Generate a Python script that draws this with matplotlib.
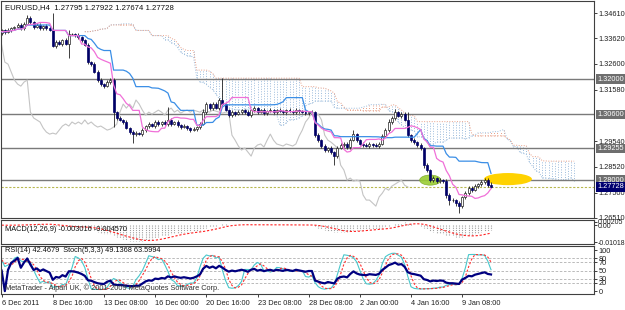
import numpy as np
import pandas as pd
import matplotlib
matplotlib.use('Agg')
import matplotlib.pyplot as plt
from matplotlib.patches import Ellipse
from matplotlib.transforms import blended_transform_factory

plt.rcParams['font.family'] = ['Liberation Sans', 'DejaVu Sans']

# EURUSD H4 bars, 6 Dec 2011 -> 10 Jan 2012 (open = previous close)
first_open = 1.3382
closes = [
    1.3394, 1.3386, 1.3394, 1.3402, 1.3406, 1.3414, 1.3402, 1.3418, 1.3442, 1.3426,
    1.3406, 1.3414, 1.3402, 1.3410, 1.3402, 1.3394, 1.3331, 1.3347, 1.3339, 1.3354,
    1.3339, 1.3378, 1.3378, 1.3374, 1.3366, 1.3354, 1.3335, 1.3267, 1.3259, 1.3228,
    1.3196, 1.3180, 1.3172, 1.3188, 1.3196, 1.3069, 1.3046, 1.3038, 1.3030, 1.3006,
    1.2990, 1.2982, 1.2986, 1.2982, 1.2998, 1.3014, 1.3022, 1.3014, 1.3030, 1.3022,
    1.3030, 1.3022, 1.3038, 1.3022, 1.3030, 1.3018, 1.3010, 1.3014, 1.3006, 1.2998,
    1.3002, 1.3010, 1.3022, 1.3069, 1.3101, 1.3085, 1.3101, 1.3085, 1.3117, 1.3101,
    1.3077, 1.3057, 1.3069, 1.3061, 1.3069, 1.3077, 1.3069, 1.3057, 1.3077, 1.3085,
    1.3069, 1.3077, 1.3065, 1.3073, 1.3077, 1.3069, 1.3077, 1.3073, 1.3069, 1.3077,
    1.3073, 1.3069, 1.3077, 1.3073, 1.3069, 1.3065, 1.3069, 1.3069, 1.2978, 1.2958,
    1.2935, 1.2919, 1.2927, 1.2911, 1.2895, 1.2927, 1.2939, 1.2943, 1.2931, 1.2958,
    1.2982, 1.2958, 1.2943, 1.2939, 1.2935, 1.2943, 1.2939, 1.2935, 1.2943, 1.2974,
    1.2998, 1.3030, 1.3046, 1.3069, 1.3053, 1.3061, 1.3038, 1.2978, 1.2958, 1.2950,
    1.2939, 1.2927, 1.2859, 1.2840, 1.2800, 1.2808, 1.2796, 1.2800, 1.2796, 1.2741,
    1.2721, 1.2721, 1.2709, 1.2697, 1.2733, 1.2748, 1.2768, 1.2760, 1.2776, 1.2784,
    1.2792, 1.2800, 1.27795, 1.27728,
]
# wick lengths in pips above / below the body
upper_wick = [
    6, 5, 8, 6, 5, 7, 6, 9, 11, 6,
    5, 7, 6, 5, 6, 8, 67, 6, 8, 5,
    7, 16, 6, 5, 7, 5, 6, 8, 6, 7,
    6, 8, 5, 9, 7, 10, 6, 8, 5, 9,
    6, 7, 8, 6, 7, 5, 8, 6, 7, 6,
    5, 7, 51, 6, 5, 8, 6, 7, 5, 6,
    7, 5, 8, 12, 9, 6, 10, 7, 8, 87,
    6, 5, 8, 6, 7, 5, 6, 8, 5, 7,
    6, 5, 7, 6, 8, 5, 6, 7, 5, 6,
    8, 5, 7, 6, 5, 7, 6, 8, 6, 7,
    5, 8, 6, 7, 5, 9, 6, 8, 7, 10,
    16, 6, 5, 7, 6, 8, 5, 6, 7, 9,
    8, 10, 7, 12, 6, 9, 8, 31, 6, 7,
    5, 8, 6, 7, 5, 9, 6, 8, 5, 7,
    6, 8, 5, 7, 6, 9, 7, 8, 10, 6,
    9, 8, 7, 12,
]
lower_wick = [
    7, 6, 5, 8, 6, 5, 7, 6, 5, 8,
    6, 5, 7, 6, 8, 5, 6, 7, 5, 8,
    6, 56, 5, 7, 6, 8, 5, 7, 6, 5,
    8, 6, 7, 5, 6, 59, 7, 6, 8, 5,
    7, 36, 6, 5, 8, 6, 7, 5, 6, 7,
    8, 5, 6, 7, 5, 6, 8, 5, 7, 6,
    5, 7, 6, 5, 8, 6, 7, 5, 6, 8,
    5, 7, 6, 8, 5, 6, 7, 5, 8, 6,
    7, 5, 6, 8, 5, 7, 6, 5, 7, 6,
    5, 8, 6, 7, 5, 6, 8, 5, 9, 7,
    8, 6, 9, 7, 36, 6, 5, 8, 6, 7,
    5, 8, 6, 7, 5, 6, 8, 5, 7, 6,
    5, 7, 6, 8, 5, 7, 6, 8, 9, 7,
    6, 8, 10, 7, 9, 6, 8, 7, 6, 12,
    20, 9, 10, 28, 7, 8, 6, 9, 5, 7,
    6, 8, 7, 5,
]

date_bars = [0, 16, 32, 48, 64, 80, 96, 112, 128, 144]
date_labels = ['6 Dec 2011', '8 Dec 16:00', '13 Dec 08:00', '16 Dec 00:00',
               '20 Dec 16:00', '23 Dec 08:00', '28 Dec 08:00', '2 Jan 00:00',
               '4 Jan 16:00', '9 Jan 08:00']

price_ticks = [1.34610, 1.33620, 1.32600, 1.31580, 1.29540, 1.28520, 1.27500, 1.26510]
level_lines = [1.32000, 1.30600, 1.29255, 1.28000]
last_price = 1.27728
header = 'EURUSD,H4  1.27795 1.27922 1.27674 1.27728'

macd_ticks = [0.00205, 0.0, -0.01018]
macd_tick_labels = ['0.00205', '0.00', '-0.01018']
rsi_ticks = [100, 80, 70, 50, 30, 20, 0]
rsi_levels = [80, 70, 50, 30, 20]

# marked zones (bar index, price, width in bars, height in price)
green_zone = (134, 1.2800, 6.6, 0.0040)
yellow_zone = (158.3, 1.2804, 15.0, 0.0048)

# ---- derived series ----
close = pd.Series(closes)
opens = pd.Series(np.r_[first_open, close.values[:-1]])
high = np.maximum(opens, close) + pd.Series(upper_wick) * 1e-4
low = np.minimum(opens, close) - pd.Series(lower_wick) * 1e-4
n = len(close)
x = np.arange(n)

tenkan = (high.rolling(9, min_periods=1).max() + low.rolling(9, min_periods=1).min()) / 2
kijun = (high.rolling(26, min_periods=1).max() + low.rolling(26, min_periods=1).min()) / 2
span_a = ((tenkan + kijun) / 2).values
span_b = ((high.rolling(52, min_periods=1).max() + low.rolling(52, min_periods=1).min()) / 2).values
xs = x + 26

ema12 = close.ewm(span=12, adjust=False).mean()
ema26 = close.ewm(span=26, adjust=False).mean()
macd = ema12 - ema26
signal = macd.rolling(9, min_periods=1).mean()

delta = close.diff().fillna(0)
gain = delta.clip(lower=0).ewm(alpha=1 / 14, adjust=False).mean()
loss = (-delta.clip(upper=0)).ewm(alpha=1 / 14, adjust=False).mean()
rsi = 100 - 100 / (1 + gain / loss.replace(0, 1e-9))
rsi.iloc[0] = 50

ll = low.rolling(5, min_periods=1).min()
hh = high.rolling(5, min_periods=1).max()
stoch_k = (close - ll).rolling(3, min_periods=1).sum() / (hh - ll).rolling(3, min_periods=1).sum() * 100
stoch_d = stoch_k.rolling(3, min_periods=1).mean()

# ---- figure ----
fig = plt.figure(figsize=(6.25, 3.1), dpi=100)
W, H = 625, 310
def box(l, t, r, b):
    return [l / W, 1 - b / H, (r - l) / W, (b - t) / H]

ax = fig.add_axes(box(1, 1, 594, 218))
ax2 = fig.add_axes(box(1, 220, 594, 244), sharex=ax)
ax3 = fig.add_axes(box(1, 246, 594, 294), sharex=ax)

fs = 5.3
frame = '#404040'
for a in (ax, ax2, ax3):
    for s in a.spines.values():
        s.set_color(frame)
        s.set_linewidth(0.8)
    a.yaxis.tick_right()
    a.tick_params(axis='y', length=2, width=0.6, pad=1.5, labelsize=fs, colors='#202020')
    a.tick_params(axis='x', length=0)

ax.set_xlim(-0.2, 185.2)

# cloud
up = span_a > span_b
for cond, col in ((up, '#e8a088'), (~up, '#9cbcdc')):
    ax.vlines(xs[cond], np.minimum(span_a, span_b)[cond], np.maximum(span_a, span_b)[cond],
              colors=col, linestyles=(0, (1, 1.6)), lw=0.7, zorder=1)
ax.plot(xs, span_a, color='#9cbcdc', lw=0.7, ls=(0, (1, 1.6)), zorder=1)
ax.plot(xs, span_b, color='#e8a088', lw=0.7, ls=(0, (1, 1.6)), zorder=1)

# horizontal levels
for v in level_lines:
    ax.axhline(v, color='#7a7a7a', lw=1.0, zorder=2)
ax.axhline(last_price, color='#b8b850', lw=0.8, ls=(0, (2, 1.5)), zorder=2)

# chikou
ax.plot(x[:-26], close.values[26:], color='#c4c4c4', lw=0.8, zorder=2)

# marked zones
ax.add_patch(Ellipse(green_zone[:2], green_zone[2], green_zone[3],
                     fc='#9acd32', ec='#7aa828', lw=0.5, alpha=0.9, zorder=2.5))
ax.add_patch(Ellipse(yellow_zone[:2], yellow_zone[2], yellow_zone[3],
                     fc='#ffd200', ec='none', zorder=2.5))

# candles
bull = (close >= opens).values
ax.vlines(x, low, high, color='#202020', lw=0.6, zorder=3)
body = (close - opens).values
ax.bar(x[bull], body[bull], bottom=opens.values[bull], width=0.62,
       color='white', edgecolor='#202020', lw=0.5, zorder=3.5)
ax.bar(x[~bull], body[~bull], bottom=opens.values[~bull], width=0.62,
       color='#000066', edgecolor='#000066', lw=0.5, zorder=3.5)

# tenkan / kijun
ax.plot(x, kijun, color='#3a8ee6', lw=0.9, zorder=4)
ax.plot(x, tenkan, color='#f070d8', lw=0.9, zorder=4)

ax.set_ylim(1.2650, 1.3509)
ax.set_yticks(price_ticks)
ax.set_yticklabels([f'{v:.5f}' for v in price_ticks])
ax.text(0.006, 0.985, header, transform=ax.transAxes, fontsize=fs + 0.3,
        va='top', ha='left', color='#101010')

tr = blended_transform_factory(ax.transAxes, ax.transData)
for v in level_lines:
    ax.text(1.006, v, f'{v:.5f}', transform=tr, fontsize=fs, color='white',
            va='center', ha='left', zorder=6, clip_on=False,
            bbox=dict(boxstyle='square,pad=0.18', fc='#6e6e6e', ec='none'))
ax.text(1.006, last_price, f'{last_price:.5f}', transform=tr, fontsize=fs, color='white',
        va='center', ha='left', zorder=6, clip_on=False,
        bbox=dict(boxstyle='square,pad=0.18', fc='#000070', ec='none'))

# MACD panel
ax2.vlines(x, 0, macd, colors='#a0a0a0', linestyles=(0, (1, 1)), lw=0.8)
ax2.plot(x, signal, color='#ff2020', lw=0.8, ls=(0, (2, 1.6)))
ax2.set_ylim(-0.0113, 0.0031)
ax2.set_yticks(macd_ticks)
ax2.set_yticklabels(macd_tick_labels)
ax2.tick_params(axis='y', pad=0.8, labelsize=5.0)
ax2.text(0.006, 0.62, 'MACD(12,26,9) -0.003016 -0.004570', transform=ax2.transAxes,
         fontsize=fs, va='center', ha='left', color='#101010')

# RSI / Stochastic panel
for lv in rsi_levels:
    ax3.axhline(lv, color='#b0b0b0', lw=0.6, ls=(0, (3, 2)))
ax3.plot(x, stoch_k, color='#48c8cc', lw=0.8)
ax3.plot(x, stoch_d, color='#ff3030', lw=0.8, ls=(0, (2, 1.6)))
ax3.plot(x, rsi, color='#000080', lw=1.6)
ax3.set_ylim(-7, 110)
ax3.set_yticks(rsi_ticks)
ax3.set_yticklabels([str(v) for v in rsi_ticks])
ax3.text(0.006, 0.90, 'RSI(14) 42.4679  Stoch(5,3,3) 49.1368 63.5994', transform=ax3.transAxes,
         fontsize=fs, va='center', ha='left', color='#101010')
ax3.text(0.006, 0.12, 'MetaTrader - Alpari UK, \u00a9 2001-2009 MetaQuotes Software Corp.',
         transform=ax3.transAxes, fontsize=fs, va='center', ha='left', color='#303030')

ax3.set_xticks(date_bars)
ax3.set_xticklabels(date_labels, ha='left', fontsize=fs)
ax3.tick_params(axis='x', length=2.5, width=0.6, pad=1.5, colors='#202020')
plt.setp(ax.get_xticklabels(), visible=False)
plt.setp(ax2.get_xticklabels(), visible=False)

fig.savefig('out.png', dpi=100, facecolor='white')
